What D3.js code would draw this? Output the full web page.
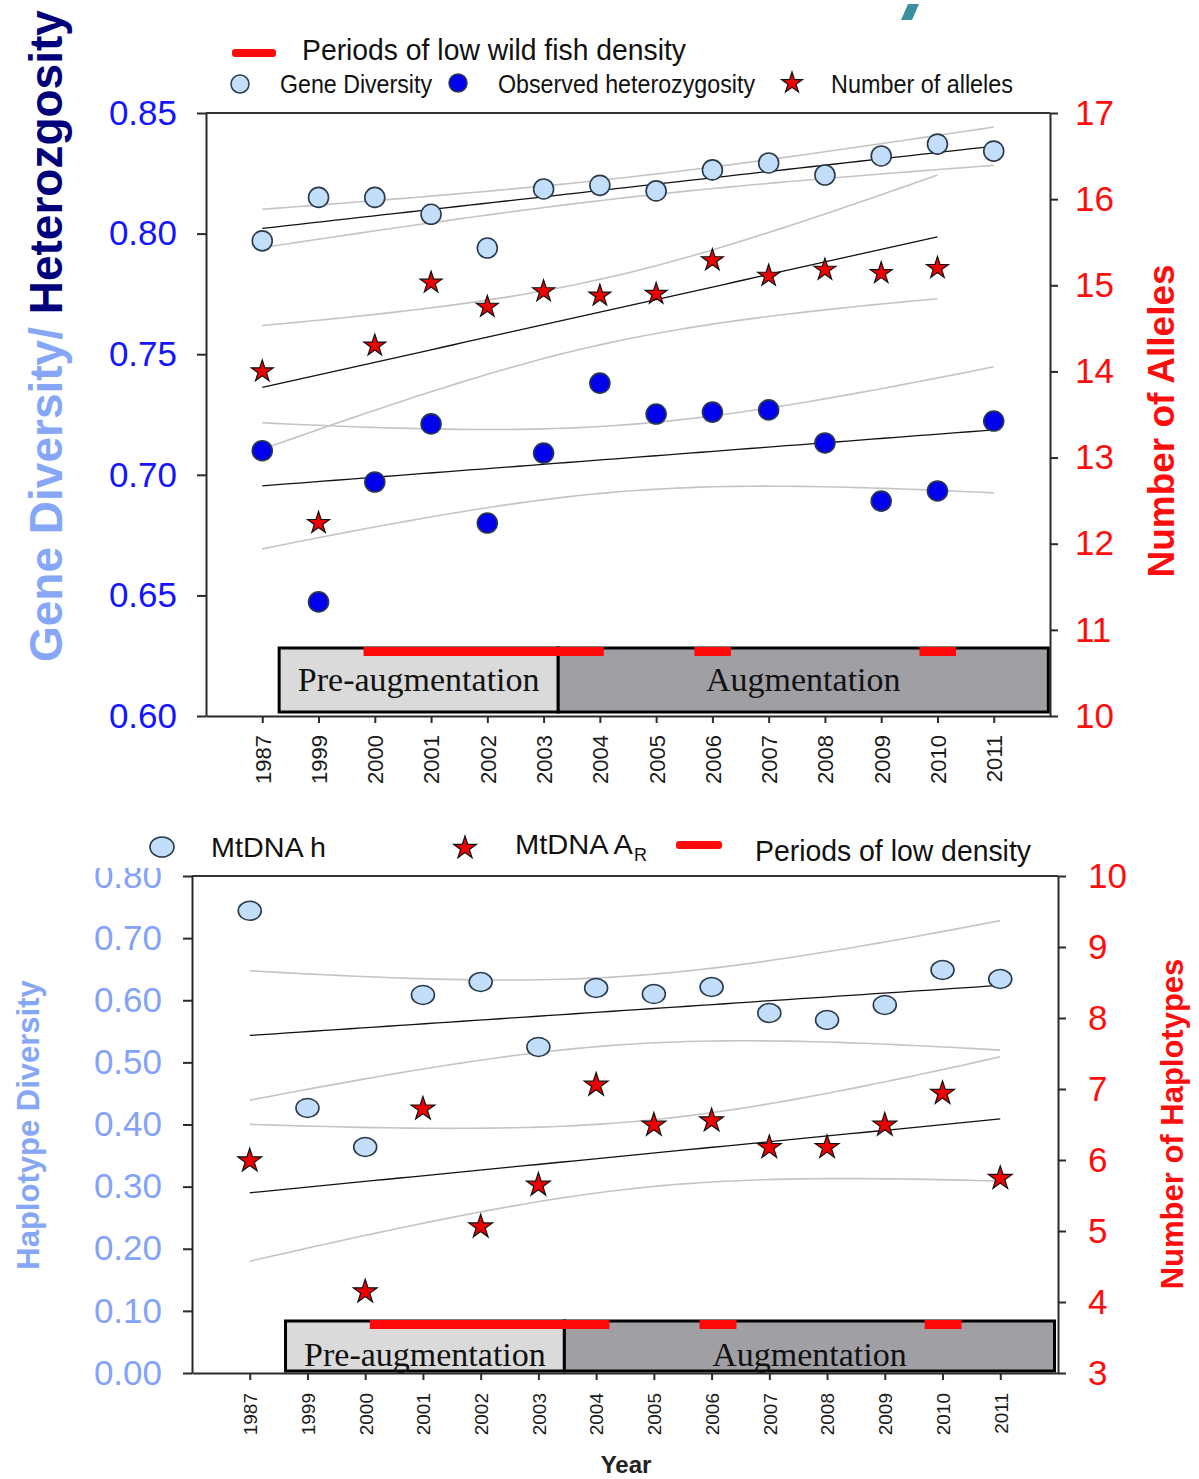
<!DOCTYPE html>
<html>
<head>
<meta charset="utf-8">
<script src="https://cdn.jsdelivr.net/npm/d3@7"></script>
<style>
  body { margin: 0; background: #fff; }
  svg { display: block; }
  .axis text { font-family: "Liberation Sans", Arial, sans-serif; }
</style>
</head>
<body>
<svg id="chart" width="1199" height="1479"></svg>
<script>
// categories
var years = ["1987","1999","2000","2001","2002","2003","2004","2005","2006","2007","2008","2009","2010","2011"];

// top panel values
var geneDiversity     = [0.797, 0.815, 0.815, 0.808, 0.794, 0.8185, 0.820, 0.8177, 0.8264, 0.8293, 0.8243, 0.8322, 0.8371, 0.8342];
var obsHeterozygosity = [0.710, 0.6473, 0.697, 0.7211, 0.680, 0.709, 0.738, 0.7252, 0.726, 0.7269, 0.7132, 0.6891, 0.6933, 0.7223];
var numAlleles        = [14.0, 12.24, 14.3, 15.03, 14.75, 14.93, 14.88, 14.9, 15.29, 15.11, 15.18, 15.14, 15.2, null];

// bottom panel values
var mtdnaH  = [0.744, 0.4266, 0.3638, 0.6085, 0.6294, 0.5248, 0.6197, 0.610, 0.6213, 0.5795, 0.5682, 0.5924, 0.6487, 0.6342];
var mtdnaAR = [5.99, null, 4.145, 6.72, 5.06, 5.648, 7.056, 6.493, 6.554, 6.178, 6.178, 6.493, 6.939, 5.742];

// tick values
var leftTicksTop     = [0.60, 0.65, 0.70, 0.75, 0.80, 0.85];
var rightTicksTop    = [10, 11, 12, 13, 14, 15, 16, 17];
var leftTicksBottom  = [0.0, 0.1, 0.2, 0.3, 0.4, 0.5, 0.6, 0.7, 0.8];
var rightTicksBottom = [3, 4, 5, 6, 7, 8, 9, 10];

// phases and periods of low density, in year-index units
var phaseNames        = ["Pre-augmentation", "Augmentation"];
var phaseLimitsTop    = [0.3, 5.26, 13.97];
var phaseLimitsBottom = [0.62, 5.45, 13.94];
var lowDensityTop     = [[1.8, 6.07], [7.68, 8.33], [11.68, 12.33]];
var lowDensityBottom  = [[2.08, 6.23], [7.79, 8.43], [11.69, 12.33]];

// two sided 95% t values by degrees of freedom
var tCrit = {11: 2.201, 12: 2.179};

var svg = d3.select("#chart");
var sans = "'Liberation Sans', Arial, sans-serif";
var narrow = "'Liberation Sans Narrow', 'Arial Narrow', 'Liberation Sans', sans-serif";
var serif = "'Liberation Serif', 'Times New Roman', serif";

// least squares line and 95% confidence band of the mean
function fitBand(values) {
  var pts = [];
  values.forEach(function(v, i) { if (v != null) pts.push([i, v]); });
  var n = pts.length,
      mx = d3.mean(pts, function(p) { return p[0]; }),
      my = d3.mean(pts, function(p) { return p[1]; }),
      sxx = d3.sum(pts, function(p) { return (p[0] - mx) * (p[0] - mx); }),
      sxy = d3.sum(pts, function(p) { return (p[0] - mx) * (p[1] - my); }),
      b = sxy / sxx, a = my - b * mx,
      s = Math.sqrt(d3.sum(pts, function(p) { return Math.pow(p[1] - a - b * p[0], 2); }) / (n - 2)),
      t = tCrit[n - 2];
  var first = pts[0][0], last = pts[n - 1][0];
  return d3.range(61).map(function(k) {
    var xv = first + k * (last - first) / 60,
        fit = a + b * xv,
        h = t * s * Math.sqrt(1 / n + (xv - mx) * (xv - mx) / sxx);
    return {x: xv, fit: fit, lo: fit - h, hi: fit + h};
  });
}

function star(r) {
  return d3.symbol().type(d3.symbolStar).size(r * r / 0.8908130915292852)();
}

function panel(cfg) {
  var g = svg.append("g");
  var x = d3.scaleLinear().domain([-1, years.length]).range([cfg.x0, cfg.x1]);
  var yL = d3.scaleLinear().domain(cfg.leftDomain).range([cfg.y1, cfg.y0]);
  var yR = d3.scaleLinear().domain(cfg.rightDomain).range([cfg.y1, cfg.y0]);

  // regression lines with confidence bands
  cfg.series.forEach(function(s) {
    var band = fitBand(s.values);
    var sc = s.axis === "right" ? yR : yL;
    ["lo", "hi"].forEach(function(k) {
      g.append("path")
        .datum(band)
        .attr("fill", "none")
        .attr("stroke", "#c4c4c4")
        .attr("stroke-width", 1.6)
        .attr("d", d3.line().x(function(d) { return x(d.x); }).y(function(d) { return sc(d[k]); }));
    });
    g.append("path")
      .datum(band)
      .attr("fill", "none")
      .attr("stroke", "#111")
      .attr("stroke-width", 1.3)
      .attr("d", d3.line().x(function(d) { return x(d.x); }).y(function(d) { return sc(d.fit); }));
  });

  // phase boxes
  var pl = cfg.phaseLimits;
  phaseNames.forEach(function(name, i) {
    g.append("rect")
      .attr("x", x(pl[i])).attr("y", cfg.boxTop)
      .attr("width", x(pl[i + 1]) - x(pl[i]))
      .attr("height", cfg.boxBottom - cfg.boxTop)
      .attr("fill", i === 0 ? "#dadada" : "#a0a0a4")
      .attr("stroke", "#000").attr("stroke-width", 3);
    g.append("text")
      .attr("x", (x(pl[i]) + x(pl[i + 1])) / 2)
      .attr("y", cfg.boxText)
      .attr("text-anchor", "middle")
      .style("font-family", serif).style("font-size", "34px")
      .attr("fill", "#111")
      .text(name);
  });

  // periods of low density
  g.selectAll(".low").data(cfg.lowDensity).enter().append("rect")
    .attr("x", function(d) { return x(d[0]); })
    .attr("width", function(d) { return x(d[1]) - x(d[0]); })
    .attr("y", cfg.boxTop - 1).attr("height", 9)
    .attr("fill", "#ff0a0a");

  // frame top line
  g.append("line")
    .attr("x1", cfg.x0).attr("x2", cfg.x1)
    .attr("y1", cfg.y0).attr("y2", cfg.y0)
    .attr("stroke", "#333").attr("stroke-width", 2);

  // axes
  var ax = g.append("g").attr("class", "axis")
    .attr("transform", "translate(0," + cfg.y1 + ")")
    .call(d3.axisBottom(x).tickValues(d3.range(years.length))
      .tickFormat(function(i) { return years[i]; }).tickSize(7).tickSizeOuter(0));
  ax.selectAll("text")
    .attr("x", -cfg.xLabelGap).attr("y", 0).attr("dy", "0.36em")
    .attr("transform", "rotate(-90)")
    .style("text-anchor", "end")
    .style("font-size", cfg.xLabelSize + "px")
    .attr("fill", "#1a1a1a");

  var al = g.append("g").attr("class", "axis")
    .attr("transform", "translate(" + cfg.x0 + ",0)")
    .call(d3.axisLeft(yL).tickValues(cfg.leftTicks).tickFormat(d3.format(".2f"))
      .tickSize(9).tickPadding(cfg.leftPad).tickSizeOuter(0));
  al.selectAll("text").style("font-size", "35px").attr("fill", cfg.leftColor);

  var ar = g.append("g").attr("class", "axis")
    .attr("transform", "translate(" + cfg.x1 + ",0)")
    .call(d3.axisRight(yR).tickValues(cfg.rightTicks).tickFormat(d3.format("d"))
      .tickSize(8).tickPadding(cfg.rightPad).tickSizeOuter(0));
  ar.selectAll("text").style("font-size", "35px").attr("fill", "#ff0d0d");

  g.selectAll(".axis path, .axis line").attr("stroke", "#2a2a2a").attr("stroke-width", 2);

  // markers
  cfg.series.forEach(function(s) {
    var sc = s.axis === "right" ? yR : yL;
    var pts = s.values.map(function(v, i) { return {i: i, v: v}; })
      .filter(function(d) { return d.v != null; });
    if (s.shape === "star") {
      g.selectAll(null).data(pts).enter().append("path")
        .attr("d", star(s.r))
        .attr("transform", function(d) { return "translate(" + x(d.i) + "," + sc(d.v) + ")"; })
        .attr("fill", "#ee0000").attr("stroke", "#111").attr("stroke-width", 1.2);
    } else {
      g.selectAll(null).data(pts).enter().append("ellipse")
        .attr("cx", function(d) { return x(d.i); })
        .attr("cy", function(d) { return sc(d.v); })
        .attr("rx", s.rx).attr("ry", s.ry)
        .attr("fill", s.fill).attr("stroke", "#2b3a4a").attr("stroke-width", 1.6);
    }
  });
}

panel({
  x0: 206, x1: 1050, y0: 113, y1: 716,
  leftDomain: [0.60, 0.85], rightDomain: [10, 17],
  leftTicks: leftTicksTop, rightTicks: rightTicksTop,
  leftColor: "#1414ff", leftPad: 20, rightPad: 17,
  xLabelGap: 19, xLabelSize: 22,
  boxTop: 648, boxBottom: 712, boxText: 691,
  phaseLimits: phaseLimitsTop, lowDensity: lowDensityTop,
  series: [
    {values: geneDiversity, axis: "left", shape: "circle", rx: 10, ry: 10, fill: "#c2defa"},
    {values: obsHeterozygosity, axis: "left", shape: "circle", rx: 10, ry: 10, fill: "#0000ee"},
    {values: numAlleles, axis: "right", shape: "star", r: 11.5}
  ]
});

panel({
  x0: 192, x1: 1058, y0: 876, y1: 1373,
  leftDomain: [0, 0.8], rightDomain: [3, 10],
  leftTicks: leftTicksBottom, rightTicks: rightTicksBottom,
  leftColor: "#84a2fa", leftPad: 21, rightPad: 22,
  xLabelGap: 20, xLabelSize: 19,
  boxTop: 1321, boxBottom: 1371, boxText: 1366,
  phaseLimits: phaseLimitsBottom, lowDensity: lowDensityBottom,
  series: [
    {values: mtdnaH, axis: "left", shape: "circle", rx: 11.5, ry: 9.5, fill: "#c2defa"},
    {values: mtdnaAR, axis: "right", shape: "star", r: 12.5}
  ]
});

// axis titles
svg.append("text")
  .attr("transform", "translate(62,662) rotate(-90)")
  .style("font-family", sans).style("font-size", "46px").style("font-weight", "bold")
  .call(function(t) {
    t.append("tspan").attr("fill", "#86a6f8").text("Gene Diversity/ ");
    t.append("tspan").attr("fill", "#00007a").text("Heterozgosity");
  });

svg.append("text")
  .attr("transform", "translate(1174,421) rotate(-90)")
  .attr("text-anchor", "middle")
  .style("font-family", sans).style("font-size", "37px").style("font-weight", "bold")
  .attr("fill", "#ff0d0d").text("Number of Alleles");

svg.append("text")
  .attr("transform", "translate(39,1125) rotate(-90)")
  .attr("text-anchor", "middle")
  .style("font-family", sans).style("font-size", "31px").style("font-weight", "bold")
  .attr("fill", "#86a6f8").text("Haplotype Diversity");

svg.append("text")
  .attr("transform", "translate(1183,1124) rotate(-90)")
  .attr("text-anchor", "middle")
  .style("font-family", sans).style("font-size", "31px").style("font-weight", "bold")
  .attr("fill", "#ff0d0d").text("Number of Haplotypes");

svg.append("text")
  .attr("x", 626).attr("y", 1473).attr("text-anchor", "middle")
  .style("font-family", sans).style("font-size", "24px").style("font-weight", "bold")
  .attr("fill", "#222").text("Year");

// top legend
var legTop = svg.append("g").style("font-family", narrow).attr("fill", "#111");
legTop.append("rect").attr("x", 232).attr("y", 49).attr("width", 44).attr("height", 8).attr("rx", 3).attr("fill", "#ff0a0a");
legTop.append("text").attr("x", 302).attr("y", 60).style("font-size", "30px")
  .attr("textLength", 384).attr("lengthAdjust", "spacingAndGlyphs").text("Periods of low wild fish density");
legTop.append("circle").attr("cx", 240).attr("cy", 84).attr("r", 9)
  .attr("fill", "#c2defa").attr("stroke", "#2b3a4a").attr("stroke-width", 1.5);
legTop.append("text").attr("x", 280).attr("y", 93).style("font-size", "26px")
  .attr("textLength", 152).attr("lengthAdjust", "spacingAndGlyphs").text("Gene Diversity");
legTop.append("circle").attr("cx", 458).attr("cy", 83).attr("r", 9)
  .attr("fill", "#0000ee").attr("stroke", "#2b3a4a").attr("stroke-width", 1.5);
legTop.append("text").attr("x", 498).attr("y", 93).style("font-size", "26px")
  .attr("textLength", 257).attr("lengthAdjust", "spacingAndGlyphs").text("Observed heterozygosity");
legTop.append("path").attr("d", star(11)).attr("transform", "translate(792,83)")
  .attr("fill", "#ee0000").attr("stroke", "#111").attr("stroke-width", 1.2);
legTop.append("text").attr("x", 831).attr("y", 93).style("font-size", "26px")
  .attr("textLength", 182).attr("lengthAdjust", "spacingAndGlyphs").text("Number of alleles");

// small teal mark at the top
svg.append("polygon").attr("points", "908,4 919,4 912,20 901,20").attr("fill", "#3c8f9e");

// bottom legend (its background hides the top of the 0.80 label)
var legBot = svg.append("g").style("font-family", narrow).attr("fill", "#111");
legBot.append("rect").attr("x", 60).attr("y", 822).attr("width", 1000).attr("height", 46).attr("fill", "#fff");
legBot.append("ellipse").attr("cx", 162).attr("cy", 847).attr("rx", 12).attr("ry", 10)
  .attr("fill", "#c2defa").attr("stroke", "#2b3a4a").attr("stroke-width", 1.6);
legBot.append("text").attr("x", 211).attr("y", 857).style("font-size", "28px")
  .attr("textLength", 115).attr("lengthAdjust", "spacingAndGlyphs").text("MtDNA h");
legBot.append("path").attr("d", star(12)).attr("transform", "translate(465,848)")
  .attr("fill", "#ee0000").attr("stroke", "#111").attr("stroke-width", 1.2);
legBot.append("text").attr("x", 515).attr("y", 854).style("font-size", "28px")
  .attr("textLength", 118).attr("lengthAdjust", "spacingAndGlyphs").text("MtDNA A");
legBot.append("text").attr("x", 634).attr("y", 861).style("font-size", "18px").text("R");
legBot.append("rect").attr("x", 676).attr("y", 841).attr("width", 46).attr("height", 8).attr("rx", 3).attr("fill", "#ff0a0a");
legBot.append("text").attr("x", 755).attr("y", 861).style("font-size", "30px")
  .attr("textLength", 276).attr("lengthAdjust", "spacingAndGlyphs").text("Periods of low density");
</script>
</body>
</html>
